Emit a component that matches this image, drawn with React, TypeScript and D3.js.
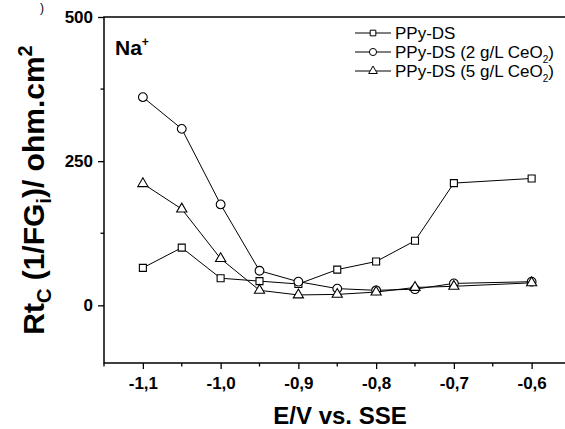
import React, { useEffect, useRef } from "react";
import * as d3 from "d3";

const potentials = [-1.1, -1.05, -1.0, -0.95, -0.9, -0.85, -0.8, -0.75, -0.7, -0.6];
const ppyDs = [65, 100, 47, 42, 37, 62, 76, 112, 212, 220];
const ppyCeo2 = [361, 306, 175, 60, 41, 29, 26, 28, 38, 41];
const ppyCeo5 = [211, 167, 81, 26, 18, 19, 23, 31, 33, 39];
const xTicks = [-1.1, -1.0, -0.9, -0.8, -0.7, -0.6];
const yTicks = [0, 250, 500];

export default function App() {
  const ref = useRef<SVGSVGElement>(null);

  useEffect(() => {
    draw();
  }, []);

  const draw = () => {
    const svg = d3.select(ref.current);
    svg.selectAll("*").remove();

    const left = 104;
    const top = 17;
    const bottom = 363;
    const right = 570.5;

    const x = d3.scaleLinear().domain([-1.15, -0.55]).range([left, right]);
    const y = d3.scaleLinear().domain([-100, 500]).range([bottom, top]);
    const font = "Arial, 'Liberation Sans', sans-serif";

    // frame
    svg.append("path")
      .attr("d", `M${right},${top} H${left} V${bottom} H${right}`)
      .attr("fill", "none")
      .attr("stroke", "#000")
      .attr("stroke-width", 1.5);

    // x axis
    const xAxis = svg.append("g")
      .attr("transform", `translate(0,${bottom})`)
      .call(
        d3.axisBottom(x)
          .tickValues(xTicks)
          .tickSize(6)
          .tickPadding(8)
          .tickFormat((d) => d3.format(".1f")(Number(d)).replace(".", ",").replace("−", "-"))
      );
    xAxis.select(".domain").remove();
    xAxis.selectAll("line").attr("stroke-width", 1.3);
    xAxis.selectAll("text")
      .attr("font-family", font)
      .attr("font-size", 17)
      .attr("font-weight", "bold");
    const xMinor = d3.range(-1.15, -0.55, 0.1).map((v) => +v.toFixed(2));
    svg.append("g").selectAll("line").data(xMinor).enter().append("line")
      .attr("x1", (d) => x(d)).attr("x2", (d) => x(d))
      .attr("y1", bottom).attr("y2", bottom + 3.5)
      .attr("stroke", "#000").attr("stroke-width", 1.3);

    // y axis
    const yAxis = svg.append("g")
      .attr("transform", `translate(${left},0)`)
      .call(d3.axisLeft(y).tickValues(yTicks).tickSize(6).tickPadding(5));
    yAxis.select(".domain").remove();
    yAxis.selectAll("line").attr("stroke-width", 1.3);
    yAxis.selectAll("text")
      .attr("font-family", font)
      .attr("font-size", 17)
      .attr("font-weight", "bold");
    svg.append("g").selectAll("line").data([125, 375]).enter().append("line")
      .attr("x1", left - 3.5).attr("x2", left)
      .attr("y1", (d) => y(d)).attr("y2", (d) => y(d))
      .attr("stroke", "#000").attr("stroke-width", 1.3);

    // axis titles
    svg.append("text")
      .attr("x", 340).attr("y", 424)
      .attr("text-anchor", "middle")
      .attr("font-family", font).attr("font-size", 24).attr("font-weight", "bold")
      .text("E/V vs. SSE");

    const yt = svg.append("text")
      .attr("transform", "translate(44,190) rotate(-90)")
      .attr("text-anchor", "middle")
      .attr("font-family", font).attr("font-size", 30).attr("font-weight", "bold");
    yt.append("tspan").text("Rt");
    yt.append("tspan").attr("font-size", 20).attr("dy", 7).text("C");
    yt.append("tspan").attr("dy", -7).text(" (1/FG");
    yt.append("tspan").attr("font-size", 20).attr("dy", 7).text("i");
    yt.append("tspan").attr("dy", -7).text(")/ ohm.cm");
    yt.append("tspan").attr("font-size", 20).attr("dy", -12).text("2");

    const na = svg.append("text")
      .attr("x", 115).attr("y", 55)
      .attr("font-family", font).attr("font-size", 21).attr("font-weight", "bold");
    na.append("tspan").text("Na");
    na.append("tspan").attr("font-size", 12).attr("dy", -9).text("+");

    svg.append("text")
      .attr("x", 40).attr("y", 12)
      .attr("font-family", font).attr("font-size", 12)
      .text(")");

    const series = [
      { name: "PPy-DS", values: ppyDs, shape: "square" },
      { name: "PPy-DS (2 g/L CeO", values: ppyCeo2, shape: "circle" },
      { name: "PPy-DS (5 g/L CeO", values: ppyCeo5, shape: "triangle" },
    ];

    const line = d3.line<number>()
      .x((_, i) => x(potentials[i]))
      .y((d) => y(d));

    const symbolFor = (shape: string) =>
      shape === "square"
        ? d3.symbol().type(d3.symbolSquare).size(49)
        : shape === "circle"
        ? d3.symbol().type(d3.symbolCircle).size(60)
        : d3.symbol().type(d3.symbolTriangle).size(45);

    series.forEach((s) => {
      svg.append("path")
        .datum(s.values)
        .attr("d", line)
        .attr("fill", "none")
        .attr("stroke", "#000")
        .attr("stroke-width", 1);
      svg.append("g").selectAll("path").data(s.values).enter().append("path")
        .attr("d", symbolFor(s.shape)())
        .attr("transform", (d, i) => `translate(${x(potentials[i])},${y(d)})`)
        .attr("fill", "#fff")
        .attr("stroke", "#000")
        .attr("stroke-width", 1.1);
    });

    // legend
    const legendY = [33, 52, 71];
    series.forEach((s, i) => {
      const g = svg.append("g").attr("transform", `translate(355,${legendY[i]})`);
      g.append("line").attr("x1", 0).attr("x2", 36).attr("y1", 0).attr("y2", 0)
        .attr("stroke", "#000").attr("stroke-width", 1);
      g.append("path")
        .attr("d", symbolFor(s.shape).size(s.shape === "circle" ? 40 : 32)())
        .attr("transform", "translate(18,0)")
        .attr("fill", "#fff").attr("stroke", "#000").attr("stroke-width", 1);
      const t = g.append("text")
        .attr("x", 40).attr("y", 6)
        .attr("font-family", font).attr("font-size", 17);
      t.append("tspan").text(s.name);
      if (i > 0) {
        t.append("tspan").attr("font-size", 10).attr("dy", 5).text("2");
        t.append("tspan").attr("dy", -5).text(")");
      }
    });
  };

  return (
    <svg
      ref={ref}
      width={565}
      height={429}
      style={{ position: "absolute", left: 0, top: 0, display: "block" }}
    />
  );
}
